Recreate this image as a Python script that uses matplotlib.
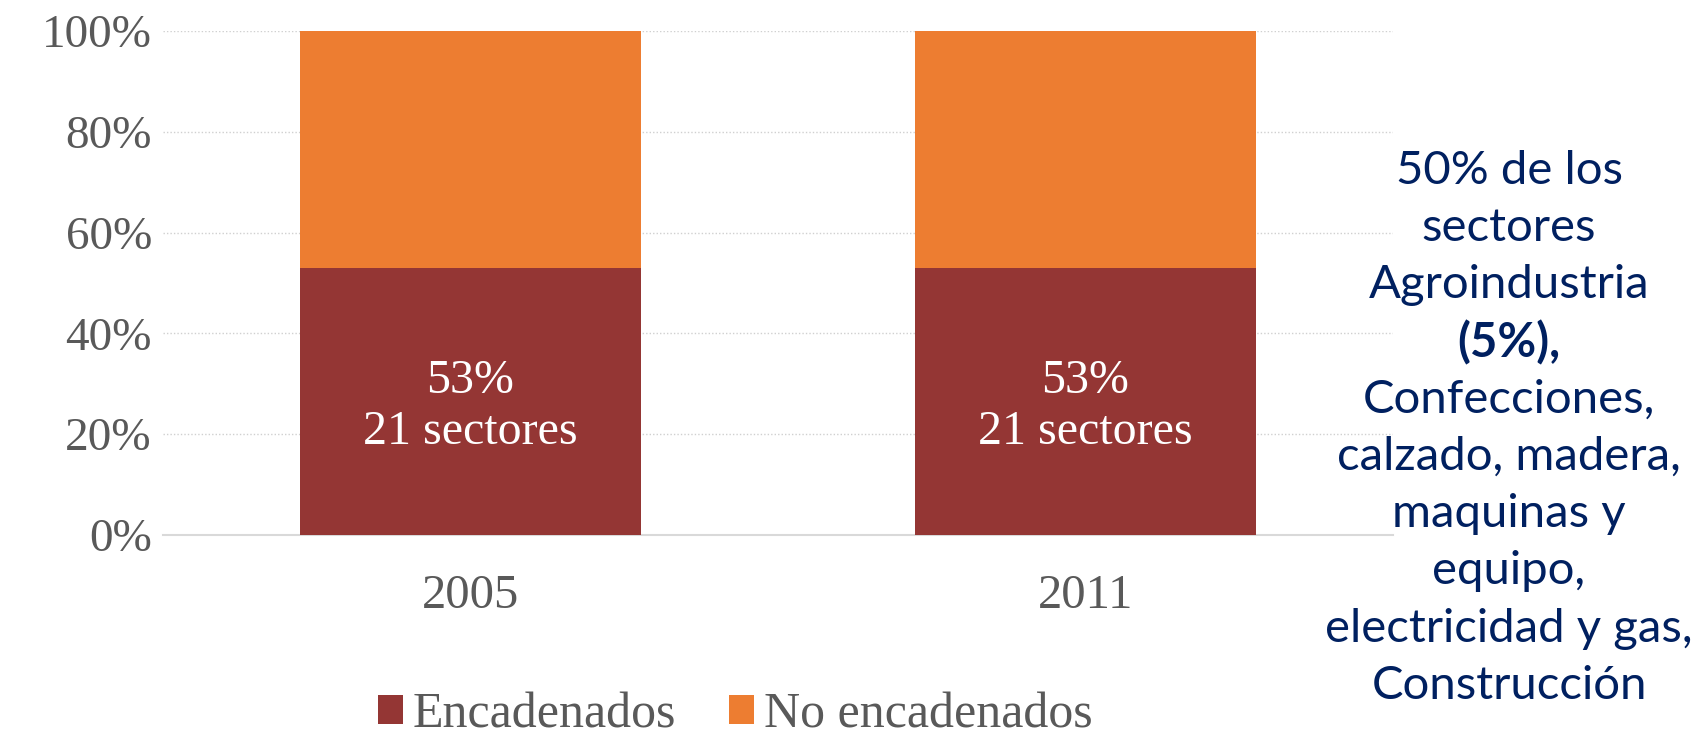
import matplotlib
matplotlib.use("Agg")
import matplotlib.pyplot as plt
from matplotlib.patches import Patch

categories = ["2005", "2011"]
encadenados = [0.53, 0.53]
no_encadenados = [0.47, 0.47]
bar_labels = ["53%\n21 sectores", "53%\n21 sectores"]
series_names = ["Encadenados", "No encadenados"]
yticks = [0, 0.2, 0.4, 0.6, 0.8, 1.0]
ytick_labels = ["0%", "20%", "40%", "60%", "80%", "100%"]
side_lines = ["50% de los", "sectores", "Agroindustria", "(5%),", "Confecciones,",
              "calzado, madera,", "maquinas y", "equipo,", "electricidad y gas,", "Construcción"]
side_bold = [False, False, False, True, False, False, False, False, False, False]

c_enc = "#943634"
c_no = "#ED7D31"
gray = "#595959"
serif = "Liberation Serif"

fig = plt.figure(figsize=(17, 7.4), dpi=100)
ax = fig.add_axes([163/1700, 1-535/740, (1393-163)/1700, (535-31)/740])

x = list(range(len(categories)))
w = 0.555
ax.bar(x, encadenados, width=w, color=c_enc, zorder=3)
ax.bar(x, no_encadenados, bottom=encadenados, width=w, color=c_no, zorder=3)

for xi, v, lab in zip(x, encadenados, bar_labels):
    ax.text(xi, v * 0.48, lab, ha="center", va="center", color="white",
            fontsize=34.5, family=serif, linespacing=1.2, zorder=4)

ax.set_xlim(-0.5, 1.5)
ax.set_ylim(0, 1.0)
ax.set_yticks(yticks)
ax.set_yticklabels(ytick_labels, family=serif, fontsize=34, color=gray)
ax.set_xticks(x)
ax.set_xticklabels(categories, family=serif, fontsize=35, color=gray)
ax.tick_params(axis="both", length=0)
ax.tick_params(axis="y", pad=8)
ax.tick_params(axis="x", pad=28)

ax.yaxis.grid(True, linestyle=(0, (1, 1.5)), color="#D0D0D0", linewidth=1.0, zorder=0)
for s in ["top", "right", "left"]:
    ax.spines[s].set_visible(False)
ax.spines["bottom"].set_color("#D9D9D9")
ax.spines["bottom"].set_linewidth(1.5)
ax.spines["bottom"].set_zorder(2)

handles = [Patch(facecolor=c_enc), Patch(facecolor=c_no)]
leg = fig.legend(handles, series_names, loc="center", bbox_to_anchor=(735/1700, 1-715/740),
                 ncol=2, frameon=False, prop={"family": serif, "size": 36},
                 handlelength=0.5, handleheight=0.5, handletextpad=0.2, columnspacing=1.05,
                 borderpad=0.2)
for t in leg.get_texts():
    t.set_color(gray)

y0 = 1 - 171/740
dy = 57.2/740
for i, (line, b) in enumerate(zip(side_lines, side_bold)):
    fig.text(1509/1700, y0 - i*dy, line, ha="center", va="center", color="#002060",
             fontsize=34, family="Lato", fontweight="bold" if b else "normal")

fig.savefig("out.png", dpi=100)
